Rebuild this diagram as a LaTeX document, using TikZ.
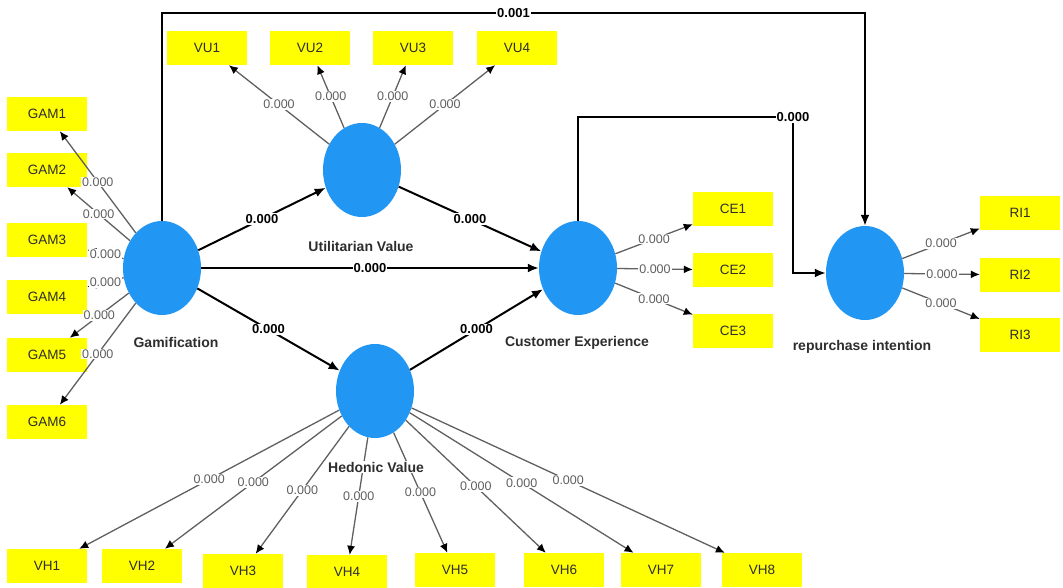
\documentclass[tikz,border=0pt]{standalone}
\usepackage{fontspec}
\setmainfont{Liberation Sans}
\usepackage{tikz}
\usetikzlibrary{arrows.meta,shapes.geometric}
\definecolor{plsblue}{HTML}{2196F3}
\definecolor{plsyellow}{HTML}{FFFF00}
\definecolor{plsgray}{HTML}{606060}
\definecolor{plstext}{HTML}{2E2E2E}

\begin{document}
\begin{tikzpicture}[x=1pt,y=-1pt,
        construct/.style={
            ellipse,
            fill=plsblue,
            minimum width=78pt,
            minimum height=94pt,
            inner sep=0pt
        },
        indicator/.style={
            fill=plsyellow,
            minimum width=80pt,
            minimum height=34pt,
            inner sep=0pt,
            text=plstext,
            font=\fontsize{13.5}{15}\selectfont
        },
        caption/.style={font=\bfseries\fontsize{14}{16}\selectfont,text=plstext,fill=white,inner sep=1pt},
        loading/.style={-{Latex[length=9pt,width=8pt,color=black]},draw=plsgray,line width=1.3pt},
        effect/.style={-{Latex[length=11pt,width=9pt]},line width=2pt,black},
        val/.style={font=\fontsize{12.5}{14}\selectfont,text=plsgray,fill=white,inner sep=1pt},
        coef/.style={font=\bfseries\fontsize{13}{15}\selectfont,fill=white,inner sep=1pt}
    ]
        \useasboundingbox (0,0) rectangle (1063,588);

        % latent variables
        \node[construct] (gam) at (162,268) {};
        \node[construct] (uv) at (362,170) {};
        \node[construct] (hv) at (375,391) {};
        \node[construct] (ce) at (578,268) {};
        \node[construct] (ri) at (865,273) {};

        % indicators
        \foreach \i/\y in {1/114,2/170,3/240,4/297,5/355,6/422}
            \node[indicator] (gam\i) at (47,\y) {GAM\i};
        \foreach \i/\x in {1/207,2/310,3/413,4/517}
            \node[indicator] (vu\i) at (\x,48) {VU\i};
        \foreach \i/\x/\y in {1/47/566,2/142/566,3/243/571,4/347/572,5/455/570,6/564/570,7/661/570,8/762/570}
            \node[indicator] (vh\i) at (\x,\y) {VH\i};
        \foreach \i/\y in {1/209,2/270,3/331}
            \node[indicator] (ce\i) at (733,\y) {CE\i};
        \foreach \i/\y in {1/213,2/275,3/335}
            \node[indicator] (ri\i) at (1020,\y) {RI\i};

        % outer loadings
        \foreach \i in {1,...,6}
            \draw[loading] (gam) -- node[val]{0.000} (gam\i);
        \foreach \i in {1,...,4}
            \draw[loading] (uv) -- node[val]{0.000} (vu\i);
        \foreach \i in {1,...,8}
            \draw[loading] (hv) -- node[val]{0.000} (vh\i);
        \foreach \i in {1,2,3}
            \draw[loading] (ce) -- node[val]{0.000} (ce\i);
        \foreach \i in {1,2,3}
            \draw[loading] (ri) -- node[val]{0.000} (ri\i);

        % inner model
        \coordinate (topline) at (0,13);
        \coordinate (cebend) at (793,117);
        \draw[effect] (gam) -- node[coef]{0.000} (uv);
        \draw[effect] (uv) -- node[coef]{0.000} (ce);
        \draw[effect] (gam) -- node[coef]{0.000} (ce);
        \draw[effect] (gam) -- node[coef]{0.000} (hv);
        \draw[effect] (hv) -- node[coef]{0.000} (ce);
        \draw[effect] (gam.north) -- (gam.north |- topline) -| node[coef,pos=0.25]{0.001} (ri.north);
        \draw[effect] (ce.north) |- (cebend) node[coef]{0.000} |- (ri.west);

        % construct names
        \node[caption] (gamname) at (176,342) {Gamification};
        \node[caption] (uvname) at (361,246) {Utilitarian Value};
        \node[caption] (hvname) at (376,467) {Hedonic Value};
        \node[caption] (cename) at (577,343) {Customer Experience};
        \node[caption] (riname) at (862,347) {repurchase intention};
    \end{tikzpicture}
\end{document}
